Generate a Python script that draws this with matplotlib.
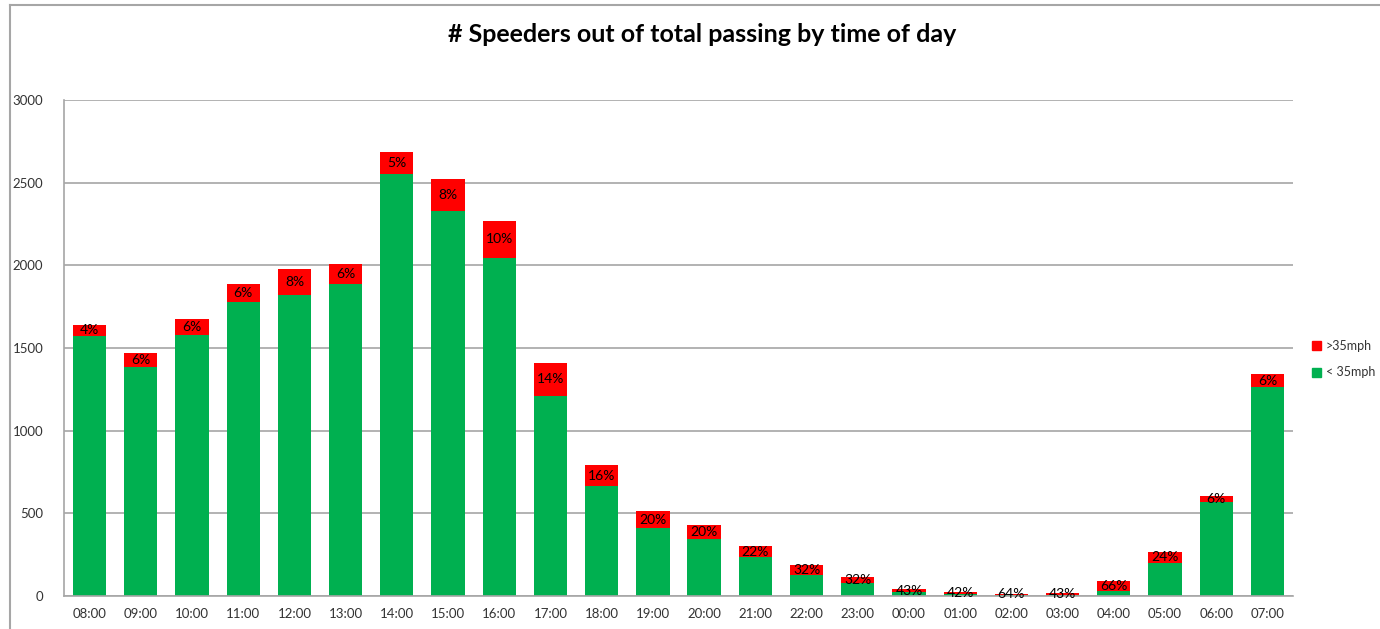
import numpy as np
import matplotlib
matplotlib.use("Agg")
import matplotlib.pyplot as plt
from matplotlib.lines import Line2D
from matplotlib.patches import Patch

plt.rcParams["font.family"] = ["Lato", "DejaVu Sans"]

# ------------------------------------------------------------
# Data
# ------------------------------------------------------------
hours = ["08:00", "09:00", "10:00", "11:00", "12:00", "13:00", "14:00", "15:00",
         "16:00", "17:00", "18:00", "19:00", "20:00", "21:00", "22:00", "23:00",
         "00:00", "01:00", "02:00", "03:00", "04:00", "05:00", "06:00", "07:00"]
under_35 = [1575, 1385, 1578, 1780, 1822, 1890, 2555, 2330,
            2045, 1212, 665, 411, 343, 236, 127, 78,
            24, 14, 5, 9, 31, 202, 568, 1262]
over_35 = [65, 87, 100, 107, 157, 118, 131, 195,
           223, 196, 127, 103, 86, 66, 60, 37,
           18, 10, 9, 7, 60, 64, 37, 78]
pct_labels = ["4%", "6%", "6%", "6%", "8%", "6%", "5%", "8%",
              "10%", "14%", "16%", "20%", "20%", "22%", "32%", "32%",
              "43%", "42%", "64%", "43%", "66%", "24%", "6%", "6%"]

green = "#00b050"
red = "#ff0000"
grid_grey = "#a6a6a6"

fig = plt.figure(figsize=(13.8, 6.29), dpi=100)
ax = fig.add_axes([64 / 1380, 1 - 596 / 629, 1229 / 1380, 496 / 629])

x = np.arange(len(hours))
under = np.array(under_35)
over = np.array(over_35)

ax.bar(x, under, width=0.65, color=green, zorder=2)
ax.bar(x, over, width=0.65, bottom=under, color=red, zorder=2)

# percentage labels centred on the red segment
for xi, u, o, lab in zip(x, under, over, pct_labels):
    ax.text(xi, u + o / 2, lab, ha="center", va="center",
            fontsize=10, color="black", zorder=3)

ax.set_xlim(-0.5, len(hours) - 0.5)
ax.set_ylim(0, 3000)
ax.set_yticks(np.arange(0, 3001, 500))
ax.set_xticks(x)
ax.set_xticklabels(hours)
ax.tick_params(axis="both", length=0, labelsize=9.5, colors="#333333")
ax.tick_params(axis="y", pad=15)
ax.tick_params(axis="x", pad=9)

ax.yaxis.grid(True, color=grid_grey, linewidth=1.2, zorder=0)
for side in ["top", "right"]:
    ax.spines[side].set_visible(False)
for side in ["left", "bottom"]:
    ax.spines[side].set_color(grid_grey)
    ax.spines[side].set_linewidth(1.2)

fig.text(702 / 1380, 1 - 35 / 629, "# Speeders out of total passing by time of day",
         ha="center", va="center", fontsize=18, fontweight="bold")

handles = [Patch(color=red, label=">35mph"), Patch(color=green, label="< 35mph")]
fig.legend(handles=handles, loc="center left",
           bbox_to_anchor=(1303 / 1380, 1 - 359 / 629), frameon=False,
           fontsize=9, handlelength=0.7, handleheight=0.7, handletextpad=0.4,
           labelspacing=1.2, labelcolor="#333333", borderpad=0.2)

# outer chart border (top and left edges visible)
fig.add_artist(Line2D([10 / 1380, 1], [1 - 5 / 629, 1 - 5 / 629],
                      transform=fig.transFigure, color=grid_grey, linewidth=1.5))
fig.add_artist(Line2D([10 / 1380, 10 / 1380], [0, 1 - 5 / 629],
                      transform=fig.transFigure, color=grid_grey, linewidth=1.5))

fig.savefig("out.png", dpi=100)
